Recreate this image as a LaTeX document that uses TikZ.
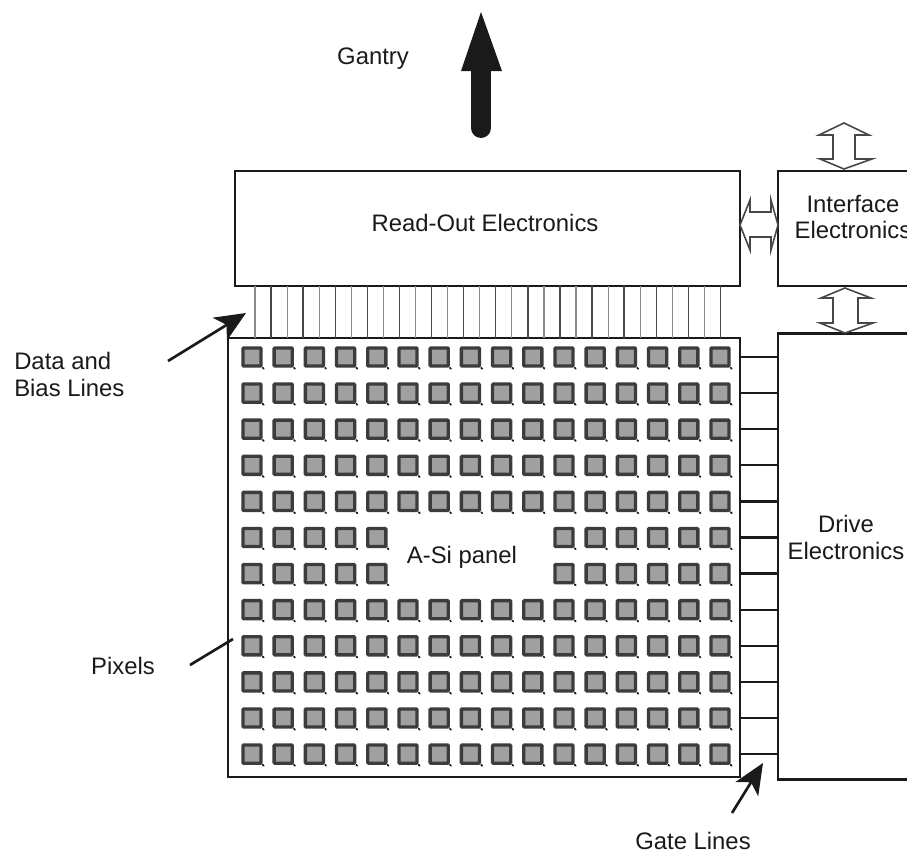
\documentclass[tikz,border=0pt]{standalone}
\usepackage{fontspec}
\setmainfont{Liberation Sans}
\usetikzlibrary{arrows.meta}
\definecolor{ink}{HTML}{1A1A1A}
\definecolor{pixfill}{HTML}{A0A0A0}
\tikzset{
  box/.style={draw=ink,line width=2.15pt,fill=white,inner sep=0pt,outer sep=0pt},
  lbl/.style={text=ink,font=\fontsize{17.9pt}{20.2pt}\selectfont,align=center,inner sep=0pt},
  pix/.style={draw=ink!85,line width=2.5pt,fill=pixfill,minimum size=13.6pt,inner sep=0pt,rounded corners=0.6pt},
  leader/.style={draw=ink,line width=2pt},
  leadtip/.style={-{Stealth[length=23pt,width=20pt,inset=6pt]},leader},
  dbl/.style={draw=ink!80,line width=1.2pt,fill=white,line join=miter},
}
\begin{document}
\begin{tikzpicture}[x=0.75pt,y=-0.75pt]
\useasboundingbox (0,0) rectangle (907,853);
% boxes
\node[box,minimum width=378.75pt,minimum height=86.25pt] (readout) at (487.5,228.5) {};
\node[box,minimum width=112.5pt,minimum height=86.25pt] (interface) at (853,228.5) {};
\node[box,minimum width=112.5pt,minimum height=334pt] (drive) at (853,556.5) {};
\node[box,minimum width=384pt,minimum height=329.25pt] (panel) at (484,557.5) {};
% data lines
\foreach \i in {0,...,29}{
  \pgfmathsetmacro{\dx}{255+16.05*\i}
  \pgfmathsetmacro{\dw}{ifthenelse(mod(\i,2)==0,0.9,1.1)}
  \pgfmathsetmacro{\dk}{ifthenelse(mod(\i,2)==0,50,80)}
  \coordinate (d\i) at (\dx,287);
  \draw[draw=ink!\dk,line width=\dw pt] (d\i |- readout.south) -- (d\i |- panel.north);
}
% pixels and gate lines
\foreach \r in {0,...,11}{
  \pgfmathsetmacro{\py}{357+36.1*\r}
  \coordinate (g\r) at (740,\py);
  \draw[ink,line width=1.7pt] (g\r -| panel.east) -- (g\r -| drive.west);
  \foreach \c in {0,...,15}{
    \pgfmathtruncatemacro{\hide}{(\r==5 || \r==6) && \c>=5 && \c<=9 ? 1 : 0}
    \ifnum\hide=0
      \pgfmathsetmacro{\px}{252+31.2*\c}
      \node[pix] (p\r-\c) at (\px,\py) {};
      \draw[ink,line width=1.3pt,line cap=round] (p\r-\c.south east) -- ++(1,1);
    \fi
  }
}
% double arrows
\draw[dbl] (844,123) -- (869,135) -- (855,135) -- (855,159) -- (872,159) -- (844,169)
  -- (820,159) -- (833,159) -- (833,135) -- (819,135) -- cycle;
\draw[dbl] (845,288) -- (871,298) -- (858,298) -- (858,323) -- (873,323) -- (845,333)
  -- (820,323) -- (833,323) -- (833,298) -- (821,298) -- cycle;
\draw[dbl] (740,225) -- (750,200) -- (750,212) -- (771,212) -- (771,200) -- (778,225)
  -- (771,250) -- (771,237) -- (750,237) -- (750,250) -- cycle;
% gantry arrow
\coordinate (gtip) at (481,12);
\coordinate (gbase) at (481,128);
\draw[ink,line width=15pt,line cap=round] (gbase) -- (481,65);
\fill[ink] (gtip) -- (502,71) -- (461,71) -- cycle;
% leaders
\coordinate (dataS) at (168,361); \coordinate (dataT) at (246,313);
\coordinate (pixS) at (190,665);
\coordinate (gateS) at (732,813); \coordinate (gateT) at (763,763);
\draw[leadtip] (dataS) -- (dataT);
\draw[leader] (pixS) -- (233,639);
\draw[leadtip] (gateS) -- (gateT);
% labels
\node[lbl] (tg) at (373,59) {Gantry};
\node[lbl] (tr) at (485,223) {Read-Out Electronics};
\node[lbl] (ti) at (853,217) {Interface\\Electronics};
\node[lbl] (tv) at (846,537) {Drive\\Electronics};
\node[lbl] (ta) at (462,557) {A-Si panel};
\node[lbl,align=left,anchor=west] (td) at (14,374) {Data and\\Bias Lines};
\node[lbl] (tp) at (123,666) {Pixels};
\node[lbl] (tl) at (693,841) {Gate Lines};
\end{tikzpicture}
\end{document}
